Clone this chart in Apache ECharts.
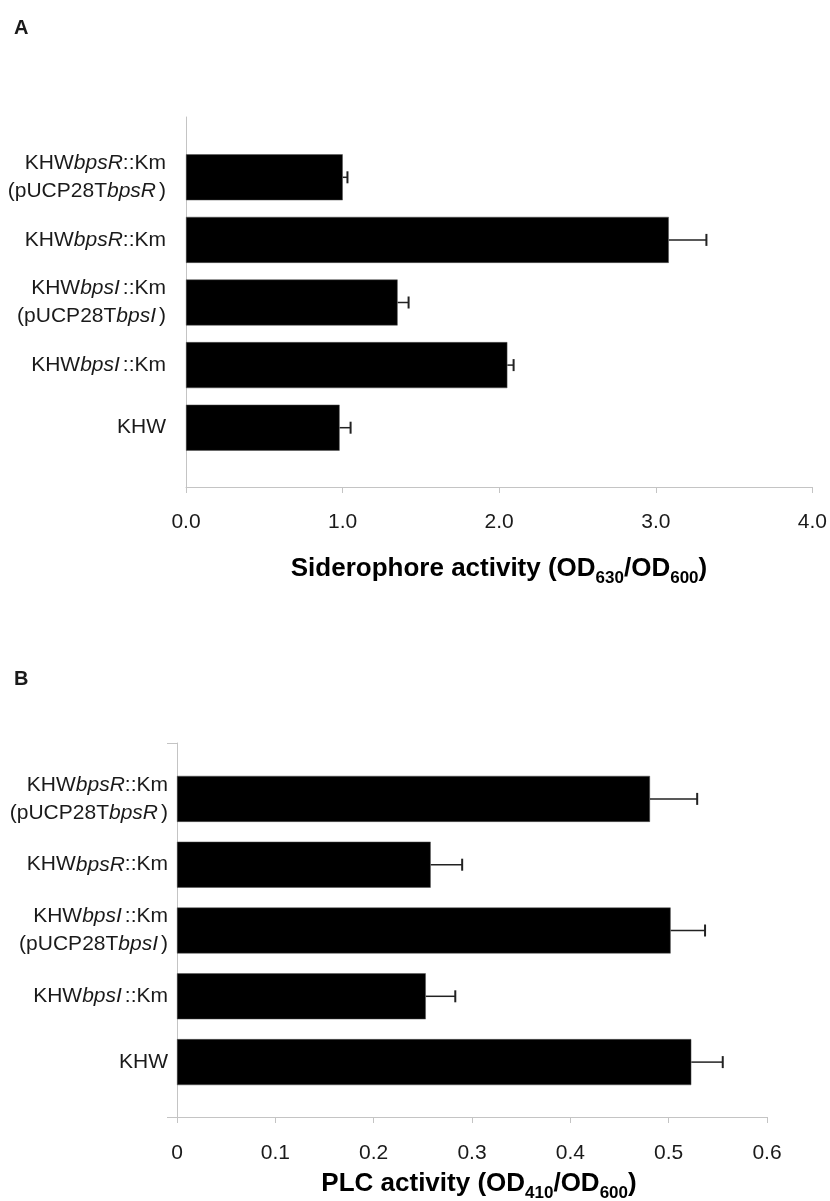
<!DOCTYPE html>
<html>
<head>
<meta charset="utf-8">
<script src="https://cdn.jsdelivr.net/npm/echarts@6/dist/echarts.min.js"></script>
<style>
  html, body { margin: 0; padding: 0; background: #fff; }
  #chart { width: 830px; height: 1201px; }
</style>
</head>
<body>
<div id="chart"></div>
<script>
// Strains, listed bottom to top as they appear on the category axis
const strains = [
  'KHW',
  'KHWbpsI::Km',
  'KHWbpsI::Km\n(pUCP28TbpsI)',
  'KHWbpsR::Km',
  'KHWbpsR::Km\n(pUCP28TbpsR)'
];

// Panel A: siderophore activity (OD630/OD600)
const sideroMean = [0.98, 2.05, 1.35, 3.08, 1.00];
const sideroErr  = [0.07, 0.04, 0.07, 0.24, 0.03];
const sideroTicks = [0, 1, 2, 3, 4];

// Panel B: PLC activity (OD410/OD600)
const plcMean = [0.523, 0.253, 0.502, 0.258, 0.481];
const plcErr  = [0.032, 0.030, 0.035, 0.032, 0.048];
const plcTicks = [0, 0.1, 0.2, 0.3, 0.4, 0.5, 0.6];

const FONT = '"Liberation Sans", Arial, Helvetica, sans-serif';
const AXIS_GRAY = '#c4c4c4';
const TEXT = '#1a1a1a';
const LABEL_SIZE = 21;

// Italicise the gene names inside a strain label; a short gap follows an
// italic capital that is next to ':' or ')'
function strainLabel(s) {
  return s.replace(/bps([IR])(\)?)/g, function (m, g, paren) {
    const style = (g === 'I' || paren) ? 'j' : 'i';
    return '{' + style + '|bps' + g + '}' + paren;
  });
}

const labelRich = {
  i: { fontStyle: 'italic', fontFamily: FONT, fontSize: LABEL_SIZE, color: TEXT, lineHeight: 28 },
  j: { fontStyle: 'italic', fontFamily: FONT, fontSize: LABEL_SIZE, color: TEXT, lineHeight: 28,
       padding: [0, 3, 0, 0] }
};

function errorRenderer(params, api) {
  const v = api.value(0), c = api.value(1), e = api.value(2);
  const p0 = api.coord([v, c]);
  const p1 = api.coord([v + e, c]);
  const h = 6;
  return {
    type: 'group',
    children: [
      { type: 'line', shape: { x1: p0[0], y1: p0[1], x2: p1[0], y2: p1[1] },
        style: { stroke: '#222', lineWidth: 1.5 } },
      { type: 'line', shape: { x1: p1[0], y1: p1[1] - h, x2: p1[0], y2: p1[1] + h },
        style: { stroke: '#222', lineWidth: 2 } }
    ]
  };
}

function frameAxes(gridIndex, ticks, digits, labelMargin, endTicks) {
  return {
    x: {
      type: 'value', gridIndex: gridIndex,
      min: ticks[0], max: ticks[ticks.length - 1], interval: ticks[1] - ticks[0],
      axisLine: { show: true, lineStyle: { color: AXIS_GRAY, width: 1 } },
      axisTick: { show: true, length: 6, lineStyle: { color: AXIS_GRAY } },
      splitLine: { show: false },
      axisLabel: {
        margin: labelMargin, fontFamily: FONT, fontSize: 21, color: TEXT,
        formatter: function (v) { return digits === null ? String(+v.toFixed(1)) : v.toFixed(digits); }
      }
    },
    y: {
      type: 'value', gridIndex: gridIndex, min: 0, max: 1, interval: 1,
      axisLine: { show: true, lineStyle: { color: AXIS_GRAY, width: 1 } },
      axisTick: { show: endTicks, length: 10, lineStyle: { color: AXIS_GRAY } },
      axisLabel: { show: false },
      splitLine: { show: false }
    }
  };
}

const frameA = frameAxes(0, sideroTicks, 1, 25, false);
const frameB = frameAxes(2, plcTicks, null, 26, true);

function barYAxis(gridIndex, margin) {
  return {
    type: 'category', gridIndex: gridIndex, data: strains,
    axisLine: { show: false }, axisTick: { show: false },
    axisLabel: {
      margin: margin, fontFamily: FONT, fontSize: LABEL_SIZE, color: TEXT, lineHeight: 28,
      align: 'right', formatter: strainLabel, rich: labelRich
    }
  };
}

function titleRich(textParts) {
  return {
    text: textParts,
    rich: {
      b: { fontFamily: FONT, fontWeight: 'bold', fontSize: 26, color: TEXT,
           verticalAlign: 'bottom', padding: [0, 0, 5, 0] },
      s: { fontFamily: FONT, fontWeight: 'bold', fontSize: 17, color: TEXT,
           verticalAlign: 'bottom' }
    }
  };
}

const chart = echarts.init(document.getElementById('chart'), null, { renderer: 'canvas' });

chart.setOption({
  backgroundColor: '#fff',
  animation: false,
  grid: [
    { left: 186, width: 627, top: 117, height: 370 },   // A frame
    { left: 186, width: 627, top: 146, height: 313 },   // A bars
    { left: 177, width: 590, top: 743, height: 374 },   // B frame
    { left: 177, width: 590, top: 766, height: 329 }    // B bars
  ],
  xAxis: [
    frameA.x,
    { type: 'value', gridIndex: 1, min: sideroTicks[0], max: sideroTicks[sideroTicks.length - 1], show: false },
    frameB.x,
    { type: 'value', gridIndex: 3, min: plcTicks[0], max: plcTicks[plcTicks.length - 1], show: false }
  ],
  yAxis: [
    frameA.y,
    barYAxis(1, 20),
    frameB.y,
    barYAxis(3, 9)
  ],
  series: [
    {
      type: 'bar', xAxisIndex: 1, yAxisIndex: 1, data: sideroMean,
      barWidth: 46, itemStyle: { color: '#000', borderColor: '#555', borderWidth: 0.5 }
    },
    {
      type: 'custom', xAxisIndex: 1, yAxisIndex: 1, z: 5,
      renderItem: errorRenderer, encode: { x: 0, y: 1 },
      data: sideroMean.map(function (m, i) { return [m, i, sideroErr[i]]; })
    },
    {
      type: 'bar', xAxisIndex: 3, yAxisIndex: 3, data: plcMean,
      barWidth: 46, itemStyle: { color: '#000', borderColor: '#555', borderWidth: 0.5 }
    },
    {
      type: 'custom', xAxisIndex: 3, yAxisIndex: 3, z: 5,
      renderItem: errorRenderer, encode: { x: 0, y: 1 },
      data: plcMean.map(function (m, i) { return [m, i, plcErr[i]]; })
    }
  ],
  graphic: [
    { type: 'text', left: 14, top: 18,
      style: { text: 'A', fontFamily: FONT, fontWeight: 'bold', fontSize: 20, fill: TEXT } },
    { type: 'text', left: 14, top: 669,
      style: { text: 'B', fontFamily: FONT, fontWeight: 'bold', fontSize: 20, fill: TEXT } },
    { type: 'text', x: 499, y: 587,
      style: Object.assign(titleRich('{b|Siderophore activity (OD}{s|630}{b|/OD}{s|600}{b|)}'),
        { align: 'center', verticalAlign: 'bottom' }) },
    { type: 'text', x: 479, y: 1202,
      style: Object.assign(titleRich('{b|PLC activity (OD}{s|410}{b|/OD}{s|600}{b|)}'),
        { align: 'center', verticalAlign: 'bottom' }) }
  ]
});
</script>
</body>
</html>
